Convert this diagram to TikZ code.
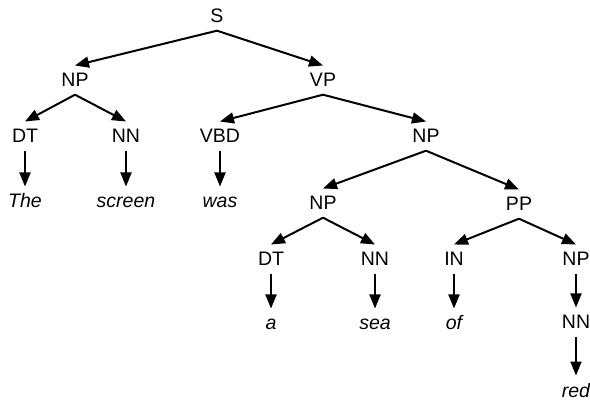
\documentclass[tikz,border=0pt]{standalone}
\usepackage{fontspec}
\setmainfont{Liberation Sans}
\usetikzlibrary{arrows.meta}
\begin{document}
\begin{tikzpicture}[x=1pt,y=-1pt,
  lbl/.style={anchor=base,inner xsep=2pt,inner ysep=7.5pt,text height=13.8pt,text depth=0pt,font=\fontsize{19.5}{22}\selectfont},
  word/.style={lbl,font=\fontsize{19.5}{22}\selectfont\itshape},
  edge/.style={line width=2pt,-{Triangle[length=14pt,width=11pt]}}]
\useasboundingbox (0,0) rectangle (590,401);
% nodes
\node[lbl] (S) at (217,23) {S};
\node[lbl] (NPa) at (75,87) {NP};
\node[lbl] (VP) at (323,87) {VP};
\node[lbl] (DTa) at (25,143) {DT};
\node[lbl] (NNa) at (126,143) {NN};
\node[lbl] (VBD) at (220,143) {VBD};
\node[lbl] (NPb) at (426,143) {NP};
\node[word] (The) at (25,208) {The};
\node[word] (screen) at (126,208) {screen};
\node[word] (was) at (220,208) {was};
\node[lbl] (NPc) at (323,210) {NP};
\node[lbl] (PP) at (519,211) {PP};
\node[lbl] (DTb) at (271,266) {DT};
\node[lbl] (NNb) at (375,266) {NN};
\node[lbl] (IN) at (454,266) {IN};
\node[lbl] (NPd) at (576,266) {NP};
\node[word] (a) at (271,330) {a};
\node[word] (sea) at (375,330) {sea};
\node[word] (of) at (454,330) {of};
\node[lbl] (NNc) at (576,329) {NN};
\node[word] (red) at (576,397) {red};
% edges
\draw[edge] (S.south) -- (NPa.north);
\draw[edge] (S.south) -- (VP.north);
\draw[edge] (NPa.south) -- (DTa.north);
\draw[edge] (NPa.south) -- (NNa.north);
\draw[edge] (VP.south) -- (VBD.north);
\draw[edge] (VP.south) -- (NPb.north);
\draw[edge] (DTa.south) -- (The.north);
\draw[edge] (NNa.south) -- (screen.north);
\draw[edge] (VBD.south) -- (was.north);
\draw[edge] (NPb.south) -- (NPc.north);
\draw[edge] (NPb.south) -- (PP.north);
\draw[edge] (NPc.south) -- (DTb.north);
\draw[edge] (NPc.south) -- (NNb.north);
\draw[edge] (PP.south) -- (IN.north);
\draw[edge] (PP.south) -- (NPd.north);
\draw[edge] (DTb.south) -- (a.north);
\draw[edge] (NNb.south) -- (sea.north);
\draw[edge] (IN.south) -- (of.north);
\draw[edge] (NPd.south) -- (NNc.north);
\draw[edge] (NNc.south) -- (red.north);
\end{tikzpicture}
\end{document}
